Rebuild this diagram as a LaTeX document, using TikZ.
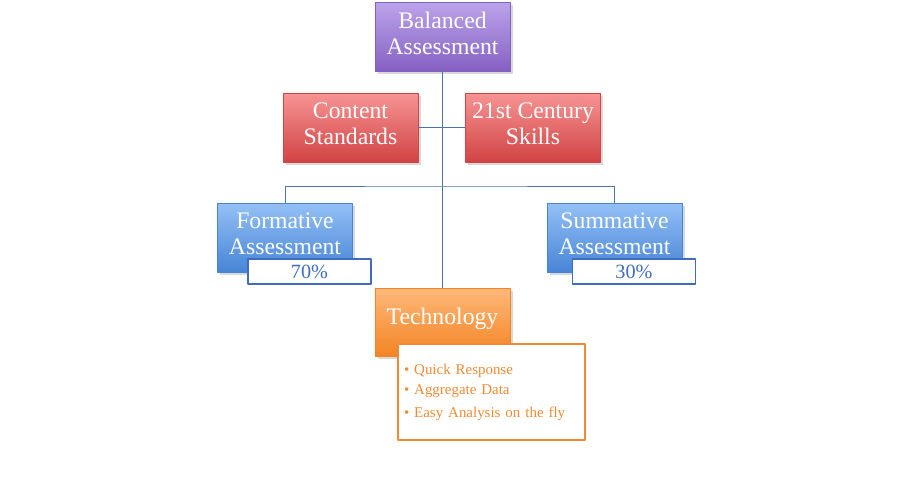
\documentclass[tikz,border=0pt]{standalone}
\usepackage{fontspec}
\setmainfont{Liberation Serif}
\usetikzlibrary{shadows}
\definecolor{purpT}{HTML}{BBA3EA}
\definecolor{purpB}{HTML}{8460C2}
\definecolor{redT}{HTML}{F79494}
\definecolor{redB}{HTML}{D24343}
\definecolor{bluT}{HTML}{94C0F6}
\definecolor{bluB}{HTML}{4785D6}
\definecolor{oraT}{HTML}{FFB97A}
\definecolor{oraB}{HTML}{F38424}
\definecolor{lineC}{HTML}{4E73AA}
\definecolor{pctC}{HTML}{3F6CC0}
\definecolor{listC}{HTML}{F18A33}
\begin{document}
\begin{tikzpicture}[x=0.02cm,y=-0.02cm,line join=round,
  box/.style={minimum width=2.7cm,minimum height=1.38cm,draw=#1,line width=0.3pt,
    drop shadow={shadow xshift=1.5pt,shadow yshift=-1.5pt,opacity=0.3}},
  boxtxt/.style={text=white,align=center,yshift=2pt,
    font=\fontsize{13.5}{14.5}\selectfont},
  purplebox/.style={box=purpB,top color=purpT,bottom color=purpB},
  redbox/.style={box=redB,top color=redT,bottom color=redB},
  bluebox/.style={box=bluB,top color=bluT,bottom color=bluB},
  orangebox/.style={box=oraB,top color=oraT,bottom color=oraB},
  pct/.style={draw=pctC,line width=0.8pt,fill=white,text=pctC,minimum width=2.46cm,
    minimum height=0.5cm,inner sep=0pt,font=\fontsize{11.5}{12}\selectfont},
  conn/.style={draw=lineC,line width=0.5pt}]
\useasboundingbox[fill=white] (0,0) rectangle (900,480);
% boxes
\node[purplebox,label={[boxtxt]center:{Balanced\\Assessment}}] (bal) at (442.5,37) {};
\node[redbox,label={[boxtxt]center:{Content\\Standards}}] (cont) at (350.5,127.5) {};
\node[redbox,label={[boxtxt]center:{21st Century\\Skills}}] (cent) at (533,127.5) {};
\node[bluebox,label={[boxtxt]center:{Formative\\Assessment}}] (form) at (285,237.5) {};
\node[bluebox,label={[boxtxt]center:{Summative\\Assessment}}] (summ) at (614.5,237.5) {};
\node[orangebox,minimum height=1.36cm,label={[boxtxt]center:Technology}] (tech) at (442.5,322) {};
% connectors
\coordinate (bus) at (442.5,186);
\draw[conn] (bal) -- (tech);
\draw[conn] (cont) -- (cent);
\draw[conn] (form.north) |- (bus) -| (summ.north);
% percentages
\node[pct] (p70) at (309.5,271.5) {70\%};
\node[pct] (p30) at (634,271.5) {30\%};
% list
\node[draw=listC,line width=0.8pt,fill=white,text=listC,minimum width=3.66cm,
  minimum height=1.92cm,text width=3.5cm,align=left,
  font=\fontsize{8.5}{11.5}\selectfont] (lst) at (491.5,392)
  {\textbullet\ Quick Response\\
   \textbullet\ Aggregate Data\\[1.5pt]
   \textbullet\ Easy Analysis on the fly};
\end{tikzpicture}
\end{document}
